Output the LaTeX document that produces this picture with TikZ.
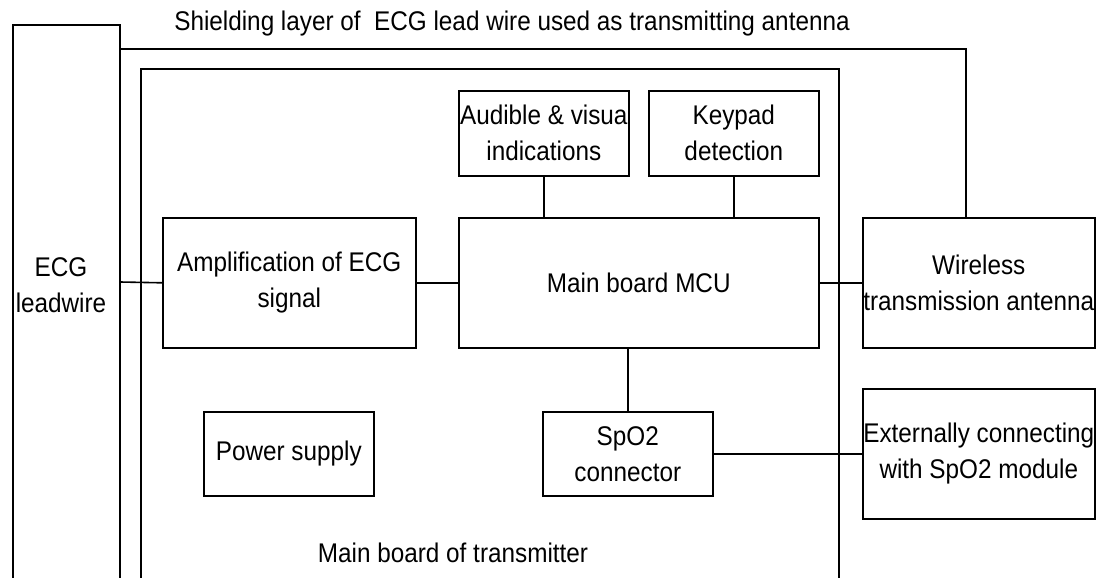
\documentclass[tikz,border=0pt]{standalone}
\usepackage{fontspec}
\setmainfont[FakeStretch=0.9]{Liberation Sans}
\begin{document}
\begin{tikzpicture}[x=1pt,y=-1pt,
  line width=1.6pt,
  every node/.style={font=\fontsize{27}{36}\selectfont},
  blk/.style={draw, line width=1.6pt, inner sep=0pt, align=center, anchor=north west},
  lbl/.style={inner sep=0pt, align=center},
  wire/.style={draw, line width=1.6pt}]
\useasboundingbox (0,0) rectangle (1096,578);
% open frames
\draw[wire] (13,578) -- (13,25) -- (120,25) -- (120,578);
\draw[wire] (141,578) -- (141,69) -- (839,69) -- (839,578);
% labels
\node[lbl] (title) at (512,24) {Shielding layer of\ \ ECG lead wire used as transmitting antenna};
\node[lbl] (ecg) at (61,285) {ECG\\leadwire};
\node[lbl] (mbt) at (453,553) {Main board of transmitter};
% blocks
\node[blk, minimum width=170pt, minimum height=85pt] (aud) at (458,90) {Audible \& visua\\indications};
\node[blk, minimum width=170pt, minimum height=85pt] (key) at (648,90) {Keypad\\detection};
\node[blk, minimum width=253pt, minimum height=130pt] (amp) at (162,217) {Amplification of ECG\\signal};
\node[blk, minimum width=360pt, minimum height=130pt] (mcu) at (458,217) {Main board MCU};
\node[blk, minimum width=232pt, minimum height=130pt] (wl) at (862,217) {Wireless\\transmission antenna};
\node[blk, minimum width=170pt, minimum height=84pt] (pwr) at (203,411) {Power supply};
\node[blk, minimum width=170pt, minimum height=84pt] (spo) at (542,411) {SpO2\\connector};
\node[blk, minimum width=232pt, minimum height=130pt] (ext) at (862,388) {Externally connecting\\with SpO2 module};
% connectors
\coordinate (ecgR) at (120,282);
\coordinate (shL) at (120,49);
\coordinate (shR) at (966,49);
\draw[wire] (ecgR) -- (amp.west);
\draw[wire] (amp.east) -- (mcu.west);
\draw[wire] (mcu.east) -- (wl.west);
\draw[wire] (aud.south) -- (aud.south |- mcu.north);
\draw[wire] (key.south) -- (key.south |- mcu.north);
\draw[wire] (spo.north) -- (spo.north |- mcu.south);
\draw[wire] (spo.east) -- (ext.west);
\draw[wire] (shL) -- (shR) -- (shR |- wl.north);
\end{tikzpicture}
\end{document}
